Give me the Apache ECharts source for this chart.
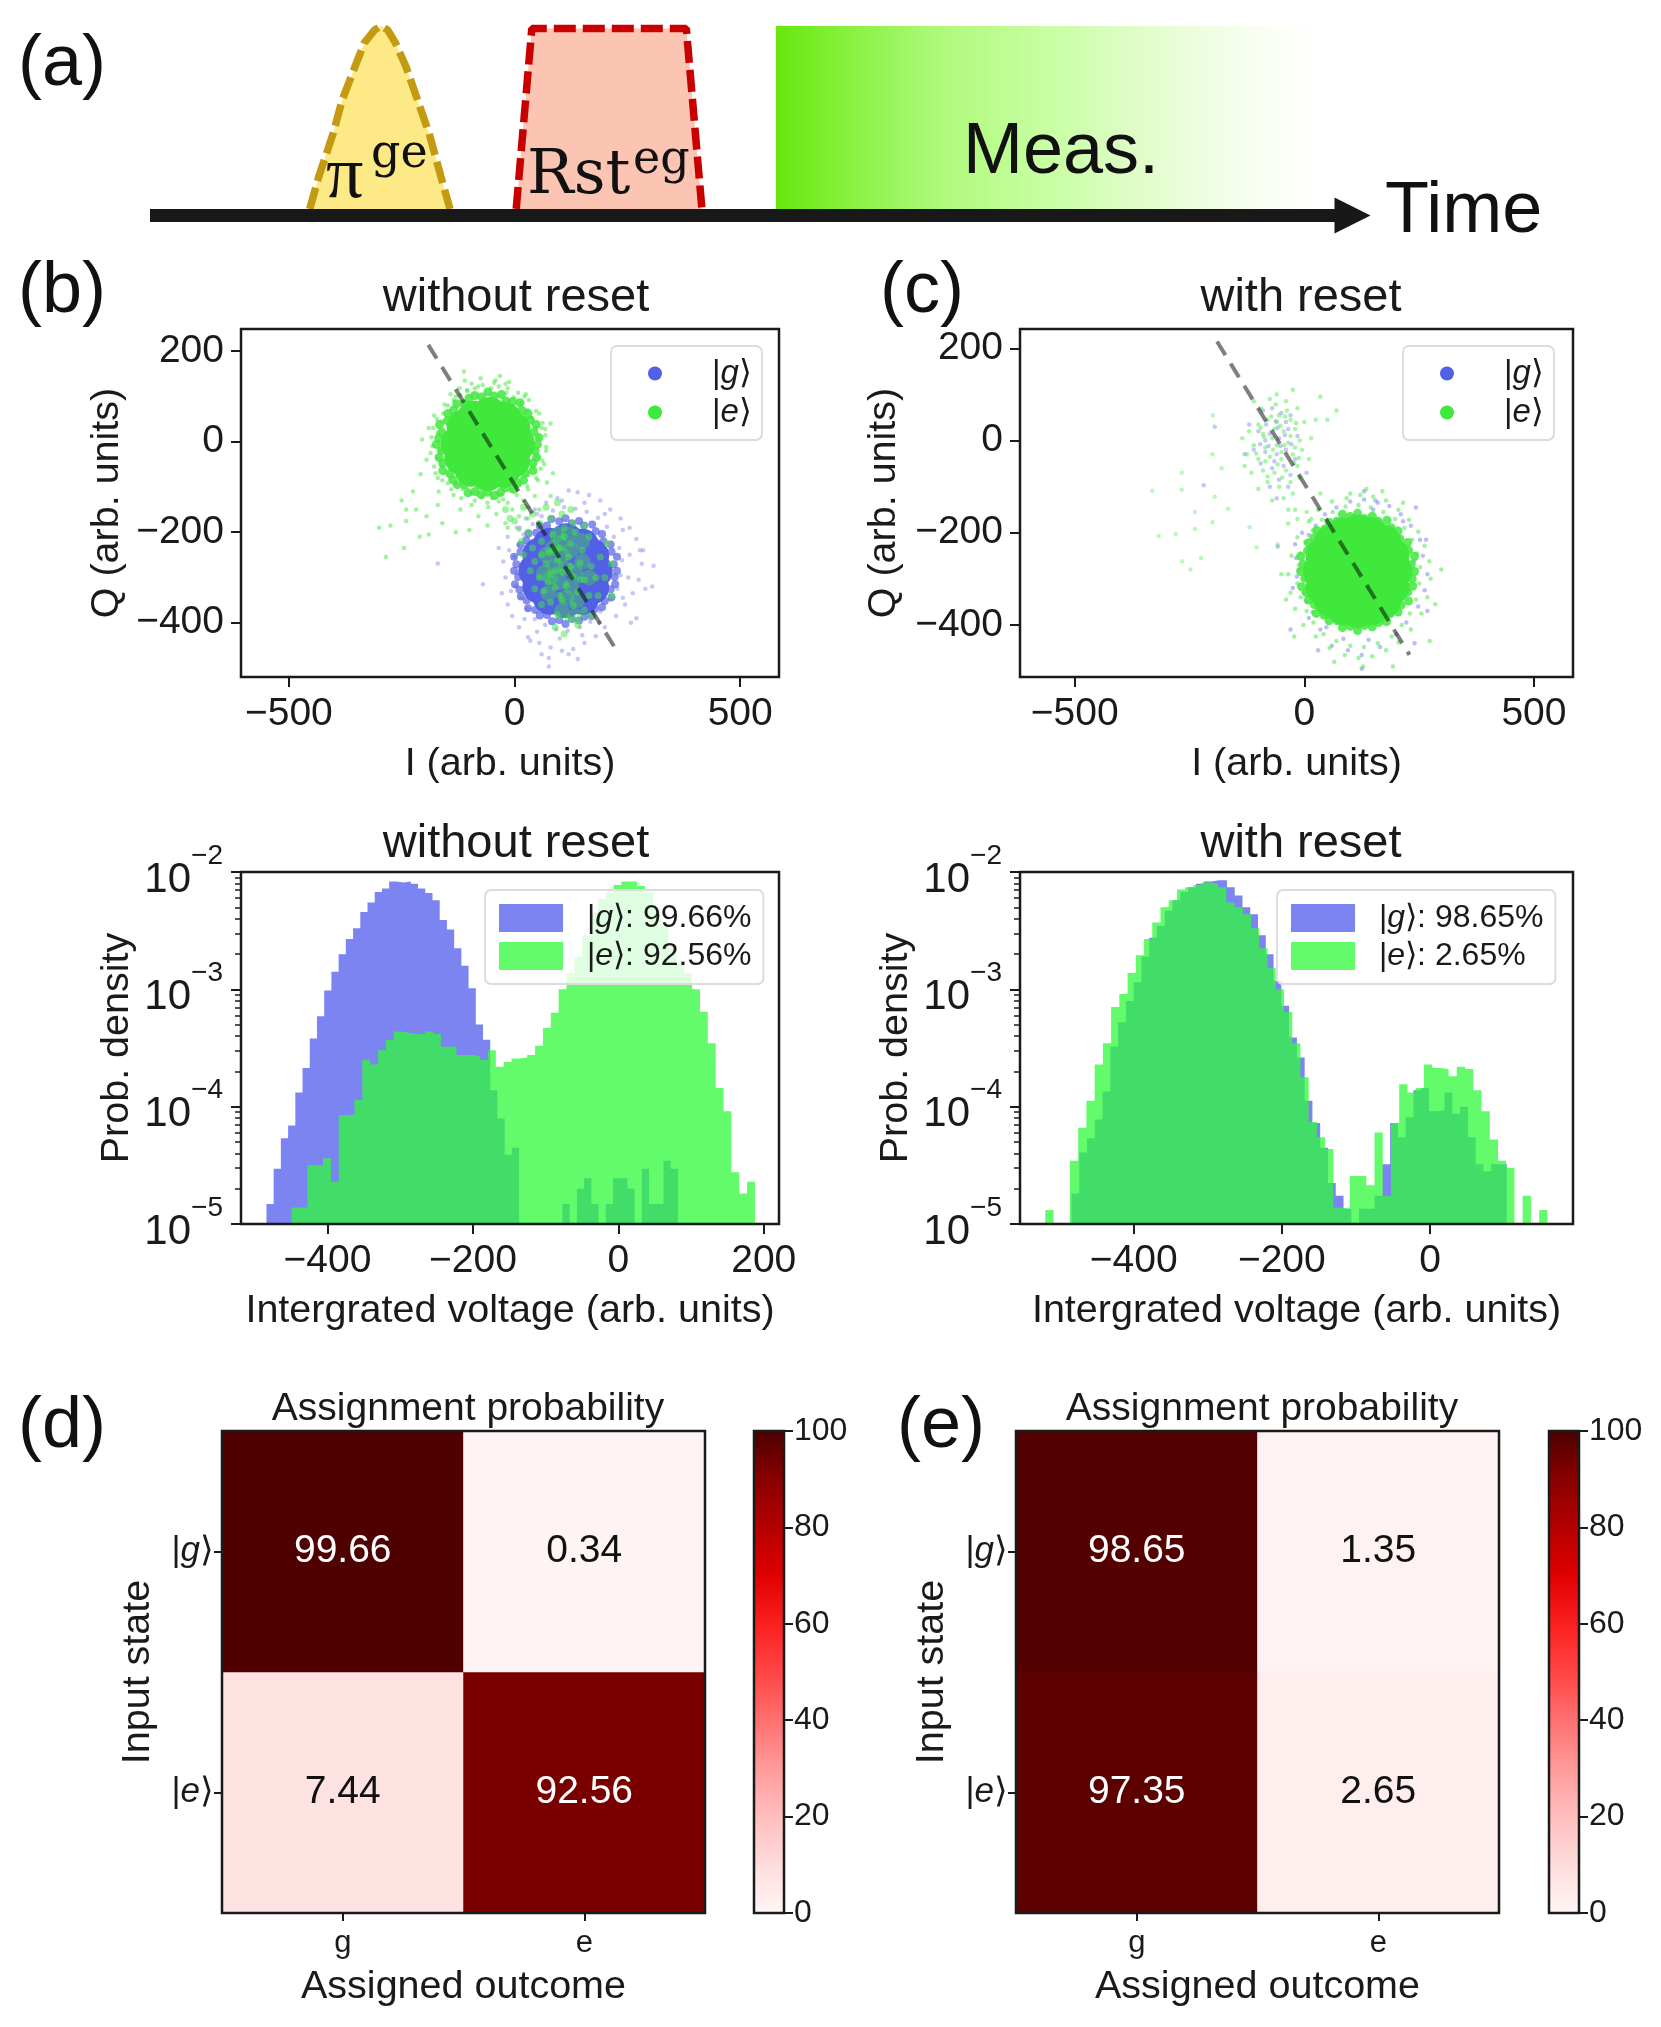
<!DOCTYPE html>
<html><head><meta charset="utf-8">
<style>html,body{margin:0;padding:0;background:#fff}#c{width:1661px;height:2027px}</style>
<script src="https://cdn.jsdelivr.net/npm/echarts@6/dist/echarts.min.js"></script>
</head><body><div id="c"></div>
<script>
// ---------- panel (a) pulse sequence, time in sketch units, amplitude above the baseline
const piPulse=[[239,5],[246,30],[257,63],[264,89],[274,115],[281,133],[289,143],[294,146],[299,143],[305,133],[313,115],[322,89],[331,63],[340,30],[347,5]];
const rstPulse=[[398,5],[410,144],[529,144],[541,5]];
const measBlock=[[598,146],[1015,146]];
const timeShaft=[[116,0],[1032,0]];
const timeHead=[[1042,0]];
// ---------- scatter ticks
const scatterXTicks=[-500,0,500];
const scatterYTicks=[-400,-200,0,200];
// ---------- discrimination lines
const lineB=[[-191,214],[229,-466]];
const lineC=[[-190,215],[229,-465]];
// ---------- (b) clouds
const bGCore=[[113,-285],[146,-281],[132,-258],[94,-258],[80,-288],[95,-315],[132,-316],[180,-285],[172,-252],[150,-230],[115,-218],[78,-228],[55,-250],[46,-285],[55,-320],[78,-345],[113,-352],[150,-345],[172,-322]];
const bGRim=[[227,-285],[220,-271],[227,-254],[215,-243],[213,-227],[197,-220],[194,-204],[180,-198],[172,-183],[154,-185],[143,-175],[127,-180],[113,-169],[99,-176],[82,-171],[72,-185],[56,-186],[48,-201],[31,-203],[26,-218],[14,-228],[13,-244],[-1,-254],[4,-271],[-1,-285],[8,-299],[1,-315],[11,-327],[14,-342],[27,-351],[30,-368],[46,-372],[56,-384],[72,-383],[83,-397],[99,-394],[113,-403],[127,-392],[143,-395],[155,-387],[171,-385],[178,-369],[194,-366],[200,-352],[215,-344],[213,-326],[223,-315],[222,-299]];
const bGEdge=[[-35,-235],[-25,-265],[-20,-300],[-28,-335],[-15,-360],[-5,-385],[10,-410],[30,-432],[55,-445],[80,-455],[105,-462],[130,-458],[155,-445],[180,-430],[200,-410],[225,-385],[245,-360],[262,-335],[275,-305],[282,-270],[278,-240],[270,-215],[255,-190],[235,-170],[212,-150],[190,-130],[165,-118],[140,-112],[120,-108],[95,-125],[70,-135],[45,-150],[25,-170],[5,-190],[-15,-210],[0,-255],[5,-290],[2,-320],[15,-345],[28,-370],[45,-392],[68,-405],[92,-415],[118,-418],[145,-410],[168,-398],[190,-375],[212,-350],[228,-325],[235,-295],[238,-262],[232,-235],[220,-210],[205,-188],[185,-168],[160,-155],[135,-148],[110,-145],[85,-152],[60,-165],[40,-182],[20,-205],[8,-228],[76,-478],[76,-497],[308,-274],[285,-240],[-170,-269],[-70,-315],[290,-325],[35,-440],[60,-470],[140,-480],[120,-470],[305,-320],[258,-400],[270,-390],[-12,-240],[-8,-330],[22,-392],[50,-420],[100,-435],[150,-428],[188,-400],[240,-345],[252,-300],[255,-250],[240,-195],[200,-160],[155,-135],[105,-130],[50,-160],[12,-190]];
const bECore=[[-59,-6],[-26,-2],[-40,22],[-78,24],[-92,-8],[-75,-35],[-40,-35],[8,-6],[-2,28],[-23,51],[-55,61],[-90,53],[-113,33],[-126,-4],[-118,-36],[-95,-62],[-60,-72],[-25,-65],[-3,-42]];
const bERim=[[51,-6],[54,9],[43,21],[48,38],[35,48],[30,62],[16,69],[12,86],[-4,89],[-19,90],[-29,104],[-45,101],[-59,110],[-73,99],[-88,102],[-101,96],[-111,84],[-128,84],[-135,70],[-148,62],[-149,46],[-166,38],[-161,21],[-168,8],[-173,-6],[-162,-20],[-167,-35],[-159,-47],[-159,-64],[-143,-71],[-137,-84],[-127,-95],[-111,-96],[-103,-113],[-87,-110],[-74,-117],[-59,-112],[-44,-119],[-31,-112],[-19,-102],[-2,-105],[7,-92],[20,-85],[24,-69],[41,-64],[41,-47],[49,-35],[46,-20]];
const bEEdge=[[-170,20],[-165,-20],[-160,45],[-172,-35],[-158,62],[-148,80],[-135,92],[-120,103],[-105,112],[-88,118],[-70,125],[-52,118],[-35,122],[-18,108],[-2,98],[15,85],[28,70],[38,52],[48,30],[52,8],[46,-14],[50,-35],[40,-55],[30,-75],[12,-92],[-8,-108],[-30,-118],[-50,-125],[-72,-122],[-95,-115],[-115,-105],[-132,-92],[-150,-70],[-162,-52],[-182,-10],[-190,30],[-178,58],[-142,105],[-110,135],[-75,140],[-42,136],[-12,132],[25,105],[55,62],[68,28],[70,-12],[66,-50],[52,-85],[30,-105],[-15,-135],[-58,-145],[-95,-140],[-135,-118],[-170,-80],[-195,-40],[-205,5],[-168,-110],[-120,-150],[-80,-165],[-40,-160],[-5,-150],[20,-130],[45,-120],[72,-90],[85,-70],[-32,145],[-112,155],[80,40],[-208,-72],[-225,-110],[-250,-130],[-218,-150],[-195,-165],[-160,-180],[-240,-175],[-300,-190],[-275,-185],[-210,-210],[-285,-255],[-245,-235],[-190,-205],[-130,-200],[-100,-195],[-60,-185],[-20,-180],[10,-165],[-240,-150],[-170,-140],[-15,-190],[10,-195],[30,-170],[55,-150],[80,-120],[30,-145],[68,14],[62,42],[48,68],[32,92],[8,108],[-15,118],[-45,130],[-80,122],[-105,114],[-130,100],[-155,82],[-172,50],[-184,10],[-186,-25],[-178,-55],[-160,-85],[-140,-105],[-118,-125],[-88,-130],[-60,-135],[-25,-128],[5,-118],[28,-98],[48,-80],[62,-42],[70,-20],[-148,-92],[-180,30],[-122,118],[-95,128],[-20,128],[22,100],[60,30],[58,-60],[-175,-70],[-35,-132]];
const bESpeckle=[[60,-220],[85,-205],[110,-190],[135,-200],[75,-245],[100,-235],[125,-225],[150,-240],[45,-265],[70,-270],[95,-262],[120,-255],[145,-268],[170,-275],[55,-300],[80,-295],[105,-288],[130,-298],[155,-305],[180,-300],[65,-330],[90,-322],[115,-318],[140,-332],[165,-340],[80,-355],[105,-350],[130,-362],[155,-372],[95,-382],[120,-390],[40,-235],[30,-200],[55,-180],[80,-170],[105,-160],[20,-250],[35,-285],[15,-220],[130,-180],[165,-210],[190,-255],[200,-300],[185,-340],[60,-360],[45,-325],[170,-385],[140,-405],[90,-410],[110,-425],[0,-175],[40,-160],[70,-145],[95,-135],[20,-145],[-20,-150],[-10,-170],[125,-150],[155,-185],[205,-225],[215,-340],[215,-270],[75,-310],[100,-340],[125,-275],[90,-285],[60,-250],[110,-210],[145,-305],[85,-240]];
const bEPatch=[[85,-235],[105,-250],[125,-240],[90,-275],[112,-280],[135,-290],[100,-310],[125,-320],[80,-300],[115,-345],[70,-250],[95,-205],[120,-205],[150,-265],[140,-350],[65,-290],[100,-225],[150,-220],[165,-300],[75,-335],[105,-375],[135,-385]];
// ---------- (c) clouds
const cGEdge=[[-20,-225],[-5,-200],[-12,-280],[-25,-320],[5,-350],[10,-385],[35,-410],[60,-445],[95,-455],[125,-465],[165,-448],[200,-420],[222,-395],[248,-360],[262,-325],[268,-290],[258,-250],[252,-215],[232,-185],[210,-160],[185,-142],[155,-130],[130,-128],[100,-132],[70,-145],[45,-160],[25,-185],[10,-205],[-58,-230],[-30,-410],[30,-455],[125,-495],[240,-440],[268,-370],[243,-145],[265,-215],[130,-110],[160,-135],[-18,-255],[-16,-295],[-2,-330],[18,-372],[48,-405],[85,-430],[140,-432],[240,-260],[215,-175],[150,-150]];
const cGSmall=[[-90,65],[-70,70],[-50,60],[-30,55],[-100,20],[-75,15],[-55,5],[-35,25],[-15,10],[-110,-20],[-85,-25],[-60,-30],[-40,-20],[-20,-40],[-95,-50],[-70,-60],[-45,-55],[-55,-85],[-30,-75],[-75,-100],[-60,-125],[-130,-30],[-195,30],[-120,35],[-40,40],[-65,-45],[-35,-100],[-85,0],[-219,-97],[5,-70],[-62,42],[-42,12],[-78,-12],[-52,-12],[-28,-8],[-96,-8],[-58,28],[-83,35]];
const cECore=[[116,-284],[151,-284],[134,-254],[98,-254],[81,-284],[98,-314],[134,-314],[196,-284],[190,-250],[172,-222],[145,-206],[116,-200],[87,-206],[60,-222],[42,-250],[36,-284],[42,-318],[60,-346],[87,-362],[116,-368],[145,-362],[172,-346],[190,-318]];
const cERim=[[240,-284],[233,-269],[240,-251],[227,-238],[225,-221],[208,-213],[204,-196],[189,-189],[180,-173],[161,-175],[148,-164],[131,-169],[116,-158],[100,-165],[83,-160],[71,-175],[54,-177],[45,-192],[27,-195],[21,-211],[9,-222],[7,-239],[-8,-251],[-3,-268],[-8,-284],[1,-299],[-6,-317],[5,-330],[9,-346],[22,-356],[26,-375],[43,-379],[54,-391],[72,-391],[83,-406],[100,-403],[116,-412],[131,-401],[148,-404],[162,-395],[179,-393],[187,-376],[204,-372],[211,-357],[227,-348],[225,-329],[236,-316],[235,-300]];
const cEEdge=[[-12,-270],[-15,-310],[-8,-340],[5,-370],[20,-395],[42,-420],[70,-435],[100,-445],[130,-448],[160,-440],[190,-425],[212,-400],[230,-375],[243,-345],[250,-310],[252,-275],[245,-245],[235,-215],[218,-190],[198,-170],[172,-155],[145,-145],[118,-140],[90,-143],[62,-155],[38,-172],[18,-195],[2,-220],[-8,-245],[-35,-290],[-30,-330],[-20,-365],[-2,-400],[25,-425],[55,-450],[88,-465],[118,-472],[148,-468],[178,-455],[205,-438],[232,-410],[255,-375],[268,-340],[275,-300],[272,-262],[262,-228],[248,-198],[228,-172],[205,-150],[178,-130],[150,-122],[122,-118],[92,-125],[60,-132],[30,-150],[10,-175],[-15,-210],[-28,-250],[298,-280],[285,-355],[273,-435],[193,-490],[128,-490],[65,-480],[-22,-425],[-50,-290],[-40,-345],[215,-135],[170,-110],[135,-105],[100,-115]];
const cESmall=[[-110,85],[-95,70],[-75,90],[-60,100],[-40,85],[-25,110],[-15,70],[-30,45],[-55,55],[-80,45],[-100,35],[-120,20],[-90,15],[-65,25],[-45,20],[-20,25],[0,40],[15,5],[-10,0],[-35,-5],[-60,-10],[-85,-15],[-110,-10],[-125,-30],[-100,-40],[-75,-35],[-50,-40],[-25,-30],[-5,-20],[-15,-55],[-40,-65],[-65,-70],[-90,-65],[-115,-70],[-80,-90],[-55,-100],[-30,-90],[-45,-125],[-70,-130],[-25,-115],[-35,-150],[-100,-105],[-130,-55],[-135,5],[10,-40],[25,45],[35,95],[70,65],[50,45],[-10,-80],[-60,40],[-50,-25],[-70,5],[-85,-45],[-30,10],[-20,-15],[-20,-150],[-15,-170],[5,-155],[-35,-180],[15,-170],[35,-115],[-52,32],[-72,52],[-42,52],[-95,28],[-68,-20],[-44,-10],[-22,-48],[-58,-52],[-80,-78],[-48,-80],[-18,38],[-105,-28],[-88,8],[-38,65],[-62,78],[-12,-38]];
const cEStray=[[-331,-109],[-317,-207],[-267,-107],[-248,-280],[-266,-262],[-225,-255],[-238,-155],[-200,-177],[-166,-148],[-195,-122],[-238,-192],[-280,-203],[-119,-188],[-104,-232],[-58,-225],[-267,-70],[-200,-30],[-199,55],[-180,-60]];
const histBGStart=-484, histBGWidth=9.93;
const histBG=[-4.83,-4.53,-4.27,-4.16,-3.88,-3.67,-3.42,-3.23,-3.01,-2.85,-2.70,-2.57,-2.48,-2.34,-2.26,-2.17,-2.14,-2.08,-2.09,-2.08,-2.10,-2.14,-2.18,-2.24,-2.41,-2.49,-2.65,-2.80,-2.99,-3.30,-3.43,-3.86,-4.10,-4.41,-4.35,-5,-5,-5,-5,-5,-5,-4.83,-5,-4.70,-4.61,-4.83,-5,-4.83,-4.61,-4.61,-4.70,-5,-4.53,-4.83,-4.83,-4.46,-4.53];
const histBEStart=-449.3, histBEWidth=10.8;
const histBE=[-4.86,-4.86,-4.50,-4.50,-4.44,-4.64,-4.07,-4.07,-3.94,-3.60,-3.64,-3.52,-3.43,-3.36,-3.37,-3.38,-3.38,-3.36,-3.38,-3.49,-3.49,-3.56,-3.56,-3.57,-3.60,-3.52,-3.66,-3.62,-3.59,-3.58,-3.56,-3.48,-3.33,-3.20,-3.00,-2.86,-2.72,-2.54,-2.35,-2.23,-2.17,-2.11,-2.08,-2.08,-2.12,-2.17,-2.30,-2.46,-2.64,-2.78,-2.86,-3.00,-3.19,-3.46,-3.84,-4.04,-4.56,-4.74,-4.64];
const histCGStart=-483.9, histCGWidth=10.49;
const histCG=[-4.74,-4.39,-4.27,-4.11,-3.87,-3.49,-3.28,-3.10,-2.94,-2.72,-2.56,-2.46,-2.33,-2.24,-2.17,-2.13,-2.10,-2.08,-2.07,-2.07,-2.13,-2.20,-2.30,-2.36,-2.54,-2.70,-2.93,-3.14,-3.41,-3.58,-3.95,-4.14,-4.35,-4.65,-4.76,-4.87,-5,-4.87,-4.87,-4.76,-4.49,-4.14,-4.26,-4.09,-3.86,-3.84,-4.04,-4.03,-3.88,-4.06,-4.00,-4.26,-4.49,-4.55,-4.49,-4.49];
const histCEStart=-519.3, histCEWidth=11.11;
const histCE=[-4.88,-5,-5,-4.46,-4.18,-3.95,-3.64,-3.46,-3.15,-3.04,-2.86,-2.71,-2.57,-2.43,-2.30,-2.24,-2.15,-2.13,-2.11,-2.09,-2.10,-2.13,-2.26,-2.30,-2.36,-2.48,-2.65,-2.82,-3.00,-3.19,-3.46,-3.75,-4.13,-4.26,-4.36,-4.86,-4.87,-4.59,-4.59,-4.67,-4.22,-4.76,-4.14,-3.81,-3.88,-3.84,-3.64,-3.67,-3.68,-3.74,-3.66,-3.68,-3.86,-4.04,-4.28,-4.46,-4.52,-5,-4.76,-5,-4.88];
const histBXTicks=[-400,-200,0,200];
const histCXTicks=[-400,-200,0];
const histYMinor=[-4.699,-4.523,-4.398,-4.301,-4.222,-4.155,-4.097,-4.046,-3.699,-3.523,-3.398,-3.301,-3.222,-3.155,-3.097,-3.046,-2.699,-2.523,-2.398,-2.301,-2.222,-2.155,-2.097,-2.046];
// ---------- assignment matrices
const outcomes=['g','e'];
const inputStates=['|e⟩','|g⟩'];
const assignD=[[7.44,92.56],[99.66,0.34]];
const assignE=[[97.35,2.65],[98.65,1.35]];
const cmap=['#fff5f5','#fedcdc','#ffbebe','#ff9a9a','#ff7070','#ff4545','#fa2020','#e00000','#b40000','#8a0000','#4d0000'];

const FF='"Liberation Sans",Arial,sans-serif', INK='#1a1a1a';
const BLUE='rgb(82,96,230)', GREEN='rgb(64,232,60)';
const HB='rgba(67,80,235,0.7)', HG='rgba(47,250,58,0.75)';
const minus=v=>String(v).replace('-','−');
const NAME={fontFamily:FF,fontSize:39.5,color:INK};

const grid=[],xAxis=[],yAxis=[],series=[],legend=[],title=[],visualMap=[];
function addGrid(l,t,w,h,frame=true){grid.push({left:l,top:t,width:w,height:h,show:frame,borderColor:INK,borderWidth:2.5,backgroundColor:'transparent',z:6});return grid.length-1;}
const tick={show:true,length:10,lineStyle:{color:INK,width:2}};
const noLine={show:false,onZero:false};
function valueX(g,min,max,ticks,name,gap){xAxis.push({gridIndex:g,type:'value',min,max,name,nameLocation:'middle',nameGap:gap,nameTextStyle:NAME,axisLine:noLine,splitLine:{show:false},axisTick:Object.assign({customValues:ticks},tick),axisLabel:{customValues:ticks,formatter:minus,fontFamily:FF,fontSize:39,color:INK,margin:18}});return xAxis.length-1;}
function scatterAxes(g,xr,yr,yGap){const x=valueX(g,xr[0],xr[1],scatterXTicks,'I (arb. units)',67);
 yAxis.push({gridIndex:g,type:'value',min:yr[0],max:yr[1],name:'Q (arb. units)',nameLocation:'middle',nameGap:yGap,nameTextStyle:NAME,axisLine:noLine,splitLine:{show:false},axisTick:Object.assign({customValues:scatterYTicks},tick),axisLabel:{customValues:scatterYTicks,formatter:minus,fontFamily:FF,fontSize:39,color:INK,margin:17}});
 return [x,yAxis.length-1];}
function pts(ax,data,color,size,opacity,name,z){series.push({type:'scatter',name,xAxisIndex:ax[0],yAxisIndex:ax[1],data,symbolSize:size,itemStyle:{color,opacity},silent:true,z:z||2});}
function dash(ax,data){series.push({type:'line',xAxisIndex:ax[0],yAxisIndex:ax[1],data,symbol:'none',silent:true,z:5,lineStyle:{color:'rgba(0,0,0,0.5)',width:4,type:[16,10]}});}
function histAxes(g,xr,ticks,yGap){const x=valueX(g,xr[0],xr[1],ticks,'Intergrated voltage (arb. units)',67);
 yAxis.push({gridIndex:g,type:'log',logBase:10,min:1e-5,max:1e-2,name:'Prob. density',nameLocation:'middle',nameGap:yGap,nameTextStyle:NAME,axisLine:noLine,splitLine:{show:false},minorTick:{show:false},axisTick:tick,
  axisLabel:{margin:18,formatter:v=>'{b|10}{s|−'+Math.round(-Math.log10(v))+'}',rich:{b:{fontFamily:FF,fontSize:42,color:INK,padding:[16,0,0,0]},s:{fontFamily:FF,fontSize:28,color:INK,padding:[0,0,32,0]}}}});
 const y=yAxis.length-1;
 yAxis.push({gridIndex:g,type:'value',position:'left',min:-5,max:-2,axisLine:noLine,splitLine:{show:false},axisLabel:{show:false},axisTick:{show:true,customValues:histYMinor,length:6,lineStyle:{color:INK,width:1.5}}});
 return [x,y];}
function hist(ax,start,width,vals,color,name){const d=vals.map((v,i)=>[start+i*width,Math.pow(10,v)]);d.push([start+vals.length*width,Math.pow(10,vals[vals.length-1])]);
 series.push({type:'line',name,xAxisIndex:ax[0],yAxisIndex:ax[1],data:d,step:'end',symbol:'none',silent:true,lineStyle:{width:0},areaStyle:{color,opacity:1},itemStyle:{color},z:2});}
function rich(n){return n.replace(/\|([ge])⟩/,'|{i|$1}⟩');}
function addLegend(l,t,items,colors,itemW,itemH,pad,font,textPad){legend.push({left:l,top:t,orient:'vertical',align:'left',padding:pad,itemGap:6,itemWidth:itemW,itemHeight:itemH,icon:itemH<20?'circle':'rect',backgroundColor:'rgba(255,255,255,0.8)',borderColor:'#dcdcdc',borderWidth:2,borderRadius:6,z:8,selectedMode:false,
 data:items.map((n,i)=>({name:n,itemStyle:{color:colors[i],opacity:1,borderWidth:0}})),formatter:rich,
 textStyle:{fontFamily:FF,fontSize:font,color:INK,padding:[0,0,0,textPad],rich:{i:{fontFamily:FF,fontStyle:'italic',fontSize:font,color:INK}}}});}
function heat(l,t,w,h,cbL,cbW,values,titleX){const g=addGrid(l,t,w,h);
 xAxis.push({gridIndex:g,type:'category',data:outcomes,name:'Assigned outcome',nameLocation:'middle',nameGap:54,nameTextStyle:NAME,axisLine:noLine,axisTick:{show:true,alignWithLabel:true,length:8,lineStyle:{color:INK,width:2}},splitLine:{show:false},axisLabel:{fontFamily:FF,fontSize:31,color:INK,margin:15}});
 yAxis.push({gridIndex:g,type:'category',data:inputStates,name:'Input state',nameLocation:'middle',nameGap:64,nameTextStyle:NAME,axisLine:noLine,axisTick:{show:true,alignWithLabel:true,length:8,lineStyle:{color:INK,width:2}},splitLine:{show:false},axisLabel:{fontFamily:FF,fontSize:35,color:INK,margin:8,formatter:rich,rich:{i:{fontFamily:FF,fontStyle:'italic',fontSize:35,color:INK}}}});
 const ax=yAxis.length-1,data=[];
 values.forEach((row,r)=>row.forEach((v,c)=>data.push({value:[c,r,v],label:{color:v>50?'#ffffff':'#111111'}})));
 series.push({type:'heatmap',xAxisIndex:xAxis.length-1,yAxisIndex:ax,data,silent:true,label:{show:true,fontFamily:FF,fontSize:39,formatter:p=>p.value[2].toFixed(2)},itemStyle:{borderWidth:0},z:2});
 visualMap.push({type:'continuous',seriesIndex:series.length-1,min:0,max:100,calculable:false,hoverLink:false,left:cbL,top:t,itemWidth:cbW,itemHeight:h,padding:0,inRange:{color:cmap},z:4});
 const cg=addGrid(cbL,t,cbW,h);
 xAxis.push({gridIndex:cg,type:'value',show:false,min:0,max:1});
 yAxis.push({gridIndex:cg,type:'value',position:'right',min:0,max:100,interval:20,axisLine:noLine,splitLine:{show:false},axisTick:{show:true,length:9,lineStyle:{color:INK,width:2}},axisLabel:{fontFamily:FF,fontSize:32,color:INK,margin:10}});
 title.push({text:'Assignment probability',left:titleX,top:1385,textAlign:'center',textStyle:{fontFamily:FF,fontSize:39,fontWeight:'normal',color:INK}});
}
const tt=(t,x,y)=>title.push({text:t,left:x,top:y,textAlign:'center',textStyle:{fontFamily:FF,fontSize:47,fontWeight:'normal',color:INK}});

// ---- (a)
const gA=addGrid(150,26,1222,189.4,false);
xAxis.push({gridIndex:gA,type:'value',min:116,max:1057,show:false});
yAxis.push({gridIndex:gA,type:'value',min:0,max:146,show:false});
series.push({type:'line',xAxisIndex:0,yAxisIndex:0,data:measBlock,symbol:'none',silent:true,clip:false,lineStyle:{width:0},areaStyle:{opacity:1,color:{type:'linear',x:0,y:0,x2:1,y2:0,colorStops:[{offset:0,color:'#66e60e'},{offset:0.12,color:'#85f03a'},{offset:0.3,color:'#aef97a'},{offset:0.5,color:'#c8ffa2'},{offset:0.7,color:'#e4fdd0'},{offset:0.88,color:'#f8fff0'},{offset:1,color:'#ffffff'}]}},z:1});
function pulse(d,fill,line){series.push({type:'line',xAxisIndex:0,yAxisIndex:0,data:d,symbol:'none',silent:true,clip:false,smooth:false,lineStyle:{color:line,width:7.5,type:[22,7]},areaStyle:{color:fill,opacity:1},z:2});}
pulse(piPulse,'#fde985','#c39a12');
pulse(rstPulse,'#fcc4b2','#c80000');
series.push({type:'line',xAxisIndex:0,yAxisIndex:0,data:timeShaft,symbol:'none',silent:true,clip:false,lineStyle:{color:'#181818',width:13},z:4});
series.push({type:'scatter',xAxisIndex:0,yAxisIndex:0,data:timeHead,symbol:'triangle',symbolRotate:-90,symbolSize:[36,36],silent:true,clip:false,itemStyle:{color:'#181818',opacity:1},z:4});

// ---- (b) scatter
const gB=addGrid(241,329,538,348);
const axB=scatterAxes(gB,[-606,586],[-520,249],114);
pts(axB,bGCore,BLUE,34,1,undefined,2);
pts(axB,bGRim,BLUE,8,0.7,undefined,2);
pts(axB,bGEdge,BLUE,4.5,0.35,'|g⟩',2);
pts(axB,bEPatch,GREEN,16,0.35,undefined,3);
pts(axB,bESpeckle,GREEN,7,0.5,undefined,3);
pts(axB,bECore,GREEN,34,1,undefined,3);
pts(axB,bERim,GREEN,9,0.85,undefined,3);
pts(axB,bEEdge,GREEN,4.5,0.5,'|e⟩',3);
dash(axB,lineB);
addLegend(611,346,['|g⟩','|e⟩'],[BLUE,GREEN],14,14,[11,10,11,37],33,45);
tt('without reset',511,270);

// ---- (c) scatter
const gC=addGrid(1020,329,553,348);
const axC=scatterAxes(gC,[-619,585],[-513,242],116);
pts(axC,cGEdge,BLUE,4.5,0.4,'|g⟩',2);
pts(axC,cGSmall,BLUE,4.5,0.35,undefined,2);
pts(axC,cECore,GREEN,36,1,undefined,3);
pts(axC,cERim,GREEN,9,0.85,undefined,3);
pts(axC,cEEdge,GREEN,4.5,0.5,'|e⟩',3);
pts(axC,cESmall,GREEN,4.5,0.45,undefined,3);
pts(axC,cEStray,GREEN,4.5,0.35,undefined,3);
dash(axC,lineC);
addLegend(1403,346,['|g⟩','|e⟩'],[BLUE,GREEN],14,14,[11,10,11,37],33,45);
tt('with reset',1296,270);

// ---- (b) histogram
const gB2=addGrid(241,872,538,352);
const axB2=histAxes(gB2,[-519,221],histBXTicks,104);
hist(axB2,histBGStart,histBGWidth,histBG,HB,'|g⟩: 99.66%');
hist(axB2,histBEStart,histBEWidth,histBE,HG,'|e⟩: 92.56%');
addLegend(485,890,['|g⟩: 99.66%','|e⟩: 92.56%'],[HB,HG],64,28,[12,12,12,14],32,19);
tt('without reset',511,816);

// ---- (c) histogram
const gC2=addGrid(1020,872,553,352);
const axC2=histAxes(gC2,[-553.4,193],histCXTicks,104);
hist(axC2,histCGStart,histCGWidth,histCG,HB,'|g⟩: 98.65%');
hist(axC2,histCEStart,histCEWidth,histCE,HG,'|e⟩: 2.65%');
addLegend(1277,890,['|g⟩: 98.65%','|e⟩: 2.65%'],[HB,HG],64,28,[12,12,12,14],32,19);
tt('with reset',1296,816);

// ---- (d)(e)
heat(222,1431,483,482,754,30,assignD,463);
heat(1016,1431,483,482,1549,30,assignE,1257);

const lab=(t,x,y,font,fam)=>({type:'text',x,y,silent:true,z:20,style:{text:t,x:0,y:0,font:font+'px '+(fam||FF),fill:'#111',textAlign:'left',verticalAlign:'middle'}});
const SERIF='"DejaVu Serif",serif';
const graphic={elements:[lab('(a)',18,65,72),lab('(b)',18,292,72),lab('(c)',880,292,72),lab('(d)',18,1427,72),lab('(e)',897,1427,72),
 lab('π',326,178,74,'"Liberation Serif",serif'),lab('ge',371,155,46,SERIF),lab('Rst',527,177,62,SERIF),lab('eg',633,161,46,SERIF),
 lab('Meas.',963,153,72),lab('Time',1385,212,72)]};

const chart=echarts.init(document.getElementById('c'),null,{renderer:'canvas'});
chart.setOption({animation:false,backgroundColor:'#fff',grid,xAxis,yAxis,series,legend,title,visualMap,graphic,tooltip:{show:false}});
</script></body></html>
